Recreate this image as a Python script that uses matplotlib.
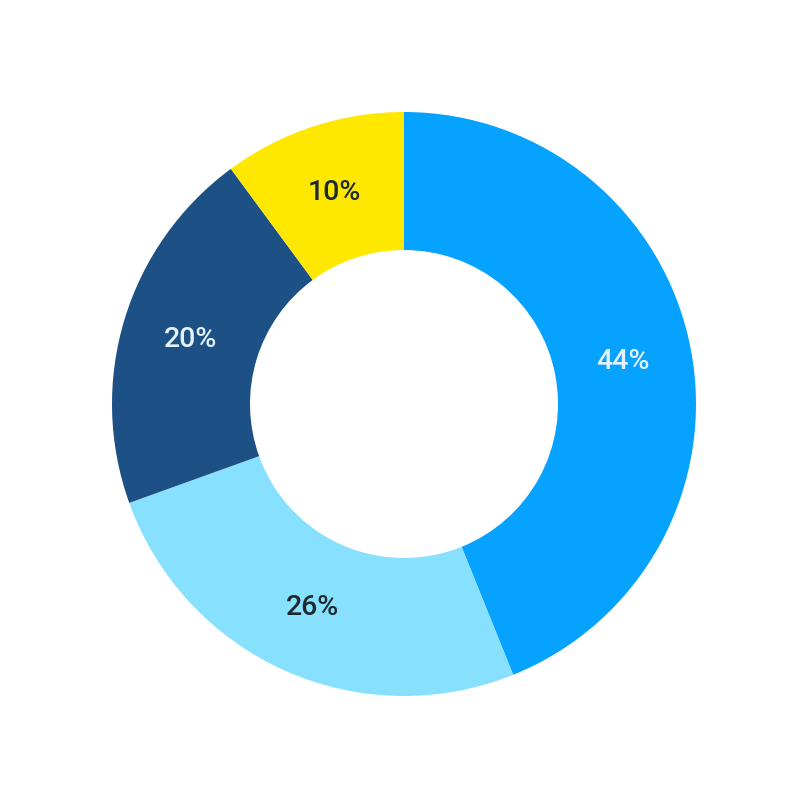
import matplotlib.pyplot as plt

# data
labels = ["44%", "26%", "20%", "10%"]
values = [43.9, 25.6, 20.4, 10.1]
colors = ["#06A2FF", "#88E0FF", "#1D5185", "#FFE800"]
text_colors = ["#E3F2FD", "#1E2A2E", "#E3F2FD", "#1E2A2E"]

plt.rcParams['font.family'] = ['Roboto', 'DejaVu Sans']

fig = plt.figure(figsize=(8.08, 8.08), dpi=100)
ax = fig.add_axes([0, 0, 1, 1])

outer = 1.0
inner = 154 / 292
wedges, texts = ax.pie(values, colors=colors, startangle=90, counterclock=False,
                       radius=outer, labels=labels, labeldistance=(outer + inner) / 2,
                       wedgeprops=dict(width=outer - inner, linewidth=0),
                       textprops=dict(fontsize=20.5, fontweight='medium', ha='center', va='center'))
for t, c in zip(texts, text_colors):
    t.set_color(c)

lim = 404 / 292
ax.set_xlim(-lim, lim)
ax.set_ylim(-lim, lim)
ax.set_aspect('equal')
ax.axis('off')

fig.savefig("out.png", dpi=100)
